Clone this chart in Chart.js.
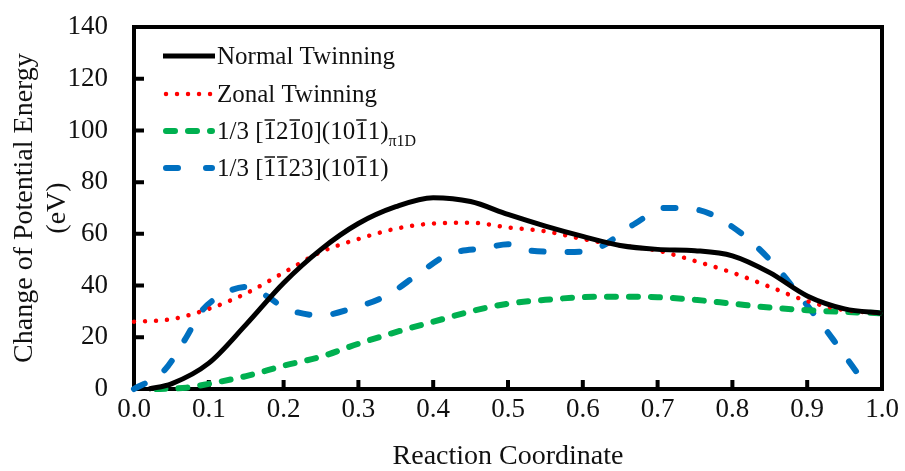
<!DOCTYPE html>
<html>
<head>
<meta charset="utf-8">
<script src="https://cdn.jsdelivr.net/npm/chart.js@4.4.0/dist/chart.umd.min.js"></script>
<style>
  html, body { margin: 0; padding: 0; background: #fff; }
  #wrap { width: 905px; height: 471px; }
</style>
</head>
<body>
<div id="wrap"><canvas id="chartCanvas" width="905" height="471"></canvas></div>
<script>
    // values
    const normalX = [0.02, 0.05, 0.1, 0.15, 0.2, 0.25, 0.3, 0.35, 0.4, 0.45, 0.5, 0.55, 0.6, 0.65, 0.7, 0.75, 0.8, 0.85, 0.9, 0.95, 1.0];
    const normalY = [0, 2, 10, 25, 41, 54, 64, 70.5, 74, 72.5, 67.5, 63, 59, 55.5, 54, 53.5, 51.5, 45, 36, 31, 29.3];

    const zonalX = [0, 0.05, 0.1, 0.15, 0.2, 0.25, 0.3, 0.35, 0.4, 0.45, 0.5, 0.55, 0.6, 0.65, 0.7, 0.75, 0.8, 0.85, 0.9, 0.95, 1.0];
    const zonalY = [26, 27, 31, 37, 45, 53, 58, 62, 64, 64.3, 62.5, 61, 58, 55.5, 53.5, 49.5, 45, 39.5, 34, 30.5, 29.3];

    const pyrX = [0.03, 0.07, 0.1, 0.15, 0.2, 0.25, 0.3, 0.35, 0.4, 0.45, 0.5, 0.55, 0.6, 0.65, 0.7, 0.75, 0.8, 0.85, 0.9, 0.95, 1.0];
    const pyrY = [0, 0.5, 2, 5, 9, 12.5, 17.5, 22, 26, 30, 33, 34.5, 35.5, 35.7, 35.5, 34.5, 33, 31.5, 30.5, 29.8, 29.3];

    const basalX = [0, 0.04, 0.07, 0.09, 0.115, 0.15, 0.18, 0.2, 0.25, 0.29, 0.34, 0.38, 0.42, 0.47, 0.5, 0.53, 0.58, 0.62, 0.67, 0.71, 0.75, 0.8, 0.85, 0.89, 0.935, 0.96, 0.98];
    const basalY = [0, 7, 20, 30, 36, 39.5, 35.5, 31.5, 28.5, 31, 36.5, 44.5, 52, 54.5, 56, 53.5, 53, 54.5, 64, 70, 69.5, 62.7, 50, 36, 19, 9, 1];

    const xTickStep = 0.1;
    const yTickStep = 20;

    const SERIF = '"Liberation Serif", "Times New Roman", serif';
    const TEXT = '#111';

    const styles = [
      { color: '#000000', width: 5, dash: [], cap: 'butt' },
      { color: '#ff0000', width: 4.5, dash: [0.01, 11], cap: 'round' },
      { color: '#00b050', width: 6, dash: [9, 13], cap: 'round' },
      { color: '#0070c0', width: 6, dash: [12, 24], cap: 'round' }
    ];

    function pts(xs, ys) {
      return xs.map((x, i) => ({ x: x, y: ys[i] }));
    }

    function makeSet(label, data, s) {
      return {
        label: label,
        data: data,
        borderColor: s.color,
        borderWidth: s.width,
        borderDash: s.dash,
        borderCapStyle: s.cap,
        pointRadius: 0,
        cubicInterpolationMode: 'monotone',
        fill: false,
        clip: false
      };
    }

    // frame and inward tick marks
    const framePlugin = {
      id: 'frame',
      beforeDatasetsDraw(chart) {
        const { ctx, chartArea: a, scales } = chart;
        ctx.save();
        ctx.strokeStyle = '#000';
        ctx.lineWidth = 4;
        ctx.strokeRect(a.left, a.top, a.right - a.left, a.bottom - a.top);
        ctx.beginPath();
        scales.x.ticks.forEach(t => {
          const px = scales.x.getPixelForValue(t.value);
          ctx.moveTo(px, a.bottom);
          ctx.lineTo(px, a.bottom - 9);
        });
        scales.y.ticks.forEach(t => {
          const py = scales.y.getPixelForValue(t.value);
          ctx.moveTo(a.left, py);
          ctx.lineTo(a.left + 10, py);
        });
        ctx.stroke();
        ctx.restore();
      }
    };

    // text with overlined digits and a subscript
    function drawRich(ctx, x, y, parts) {
      parts.forEach(p => {
        const txt = p[0], mode = p[1] || '';
        if (mode === 'sub') {
          ctx.font = '16px ' + SERIF;
          ctx.fillText(txt, x, y + 7);
          x += ctx.measureText(txt).width;
          ctx.font = '25px ' + SERIF;
          return;
        }
        ctx.fillText(txt, x, y);
        const w = ctx.measureText(txt).width;
        if (mode === 'bar') {
          ctx.beginPath();
          ctx.lineWidth = 1.5;
          ctx.moveTo(x + 1, y - 19);
          ctx.lineTo(x + w - 1, y - 19);
          ctx.stroke();
        }
        x += w;
      });
    }

    const legendRows = [
      [['Normal Twinning']],
      [['Zonal Twinning']],
      [['1/3 ['], ['1', 'bar'], ['2'], ['1', 'bar'], ['0](10'], ['1', 'bar'], ['1)'], ['\u03c0', 'sub'], ['1D', 'sub']],
      [['1/3 ['], ['1', 'bar'], ['1', 'bar'], ['23](10'], ['1', 'bar'], ['1)']]
    ];
    const legendRowY = [56, 94, 131, 168];

    const legendPlugin = {
      id: 'innerLegend',
      afterDraw(chart) {
        const ctx = chart.ctx;
        ctx.save();
        legendRows.forEach((row, i) => {
          const s = styles[i];
          const cy = legendRowY[i];
          ctx.strokeStyle = s.color;
          ctx.lineWidth = s.width;
          ctx.setLineDash(i === 3 ? [12, 28] : s.dash);
          ctx.lineCap = s.cap;
          ctx.beginPath();
          ctx.moveTo(i === 0 ? 163 : 166, cy);
          ctx.lineTo(i === 0 ? 215 : 212, cy);
          ctx.stroke();
          ctx.setLineDash([]);
          ctx.lineCap = 'butt';
          ctx.fillStyle = TEXT;
          ctx.strokeStyle = TEXT;
          ctx.textBaseline = 'alphabetic';
          ctx.textAlign = 'left';
          ctx.font = '25px ' + SERIF;
          drawRich(ctx, 217, cy + 8, row);
        });
        ctx.restore();
      }
    };

    const ctx = document.getElementById('chartCanvas').getContext('2d');
    const chart = new Chart(ctx, {
      type: 'line',
      data: {
        datasets: [
          makeSet('Normal Twinning', pts(normalX, normalY), styles[0]),
          makeSet('Zonal Twinning', pts(zonalX, zonalY), styles[1]),
          makeSet('1/3 [-12-10](10-11) pi1D', pts(pyrX, pyrY), styles[2]),
          makeSet('1/3 [-1-123](10-11)', pts(basalX, basalY), styles[3])
        ]
      },
      options: {
        responsive: false,
        animation: false,
        devicePixelRatio: 1,
        layout: { padding: { top: 27, right: 23, left: 0, bottom: 0 } },
        plugins: {
          legend: { display: false },
          tooltip: { enabled: false }
        },
        scales: {
          x: {
            type: 'linear',
            min: 0,
            max: 1,
            afterFit: s => { s.height = 82; s.paddingLeft = 0; s.paddingRight = 0; },
            grid: { display: false, drawTicks: false },
            border: { display: false },
            ticks: {
              stepSize: xTickStep,
              padding: 5,
              color: TEXT,
              font: { family: SERIF, size: 27 },
              callback: v => v.toFixed(1),
              maxRotation: 0
            },
            title: {
              display: true,
              text: 'Reaction Coordinate',
              color: TEXT,
              font: { family: SERIF, size: 28, lineHeight: 1.0 },
              padding: { top: 0, bottom: 0 }
            }
          },
          y: {
            min: 0,
            max: 140,
            afterFit: s => { s.width = 134; s.paddingTop = 0; s.paddingBottom = 0; },
            grid: { display: false, drawTicks: false },
            border: { display: false },
            ticks: {
              stepSize: yTickStep,
              padding: 26,
              color: TEXT,
              font: { family: SERIF, size: 27 }
            },
            title: {
              display: true,
              text: ['Change of Potential Energy', '(eV)'],
              color: TEXT,
              font: { family: SERIF, size: 28, lineHeight: 1.18 },
              padding: { top: 8, bottom: 0 }
            }
          }
        }
      },
      plugins: [framePlugin, legendPlugin]
    });
</script>
</body>
</html>
